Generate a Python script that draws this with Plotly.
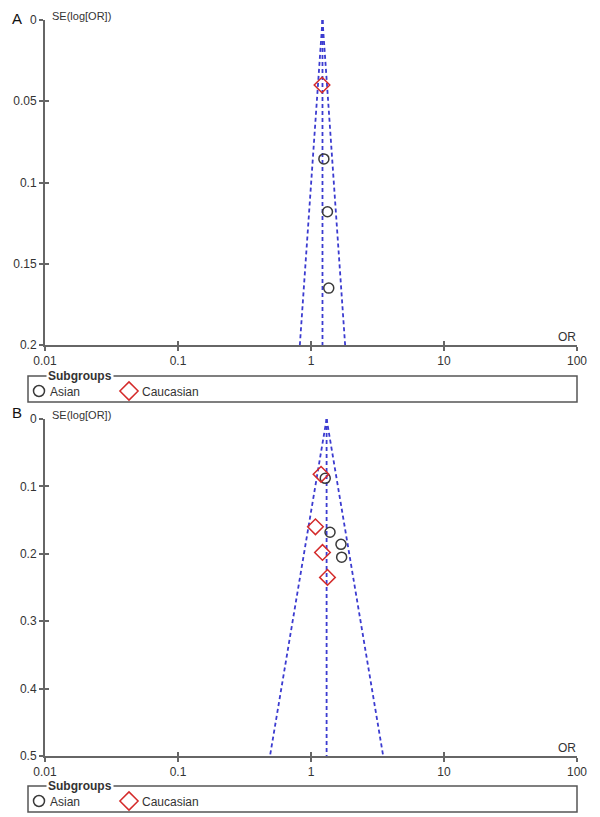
import numpy as np
import plotly.graph_objects as go

# page offset (browser body margin) compensation
OX, OY = 8, 8
W, H = 600 - OX, 817 - OY

# ---- Panel A data ----
a_asian_or = [1.25, 1.33, 1.36]
a_asian_se = [0.0855, 0.118, 0.165]
a_cauc_or = [1.21]
a_cauc_se = [0.040]
a_pooled_or = 1.22
a_se_max = 0.2

# ---- Panel B data ----
b_asian_or = [1.28, 1.39, 1.68, 1.70]
b_asian_se = [0.088, 0.168, 0.186, 0.205]
b_cauc_or = [1.19, 1.08, 1.22, 1.33]
b_cauc_se = [0.082, 0.160, 0.198, 0.235]
b_pooled_or = 1.31
b_se_max = 0.5

x_tickvals = [0.01, 0.1, 1, 10, 100]
x_ticktext = ["0.01", "0.1", "1", "10", "100"]
a_yticks = [0, 0.05, 0.1, 0.15, 0.2]
b_yticks = [0, 0.1, 0.2, 0.3, 0.4, 0.5]

FUNNEL = "#3b3bd0"
CIRC = "#3a3a3a"
DIAM = "#d42a2a"
AXC = "#666666"
TXT = "#333333"
FONT = "Liberation Sans, Arial, sans-serif"


def px(x):
    return (x - OX) / W


def py(y):
    return 1 - (y - OY) / H


fig = go.Figure()


def funnel(pooled, se_max, xa, ya):
    se = [0, se_max]
    lo = [float(np.exp(np.log(pooled) - 1.96 * s)) for s in se]
    hi = [float(np.exp(np.log(pooled) + 1.96 * s)) for s in se]
    for xs in (lo, [pooled, pooled], hi):
        fig.add_trace(go.Scatter(x=xs, y=se, mode="lines", xaxis=xa, yaxis=ya,
                                 line=dict(color=FUNNEL, width=1.8, dash="4px,3px"),
                                 showlegend=False, hoverinfo="skip"))


def points(or_a, se_a, or_c, se_c, xa, ya):
    fig.add_trace(go.Scatter(x=or_a, y=se_a, mode="markers", xaxis=xa, yaxis=ya,
                             marker=dict(symbol="circle-open", size=10, color=CIRC,
                                         line=dict(width=1.5, color=CIRC)),
                             showlegend=False))
    fig.add_trace(go.Scatter(x=or_c, y=se_c, mode="markers", xaxis=xa, yaxis=ya,
                             marker=dict(symbol="diamond-open", size=12, color=DIAM,
                                         line=dict(width=1.5, color=DIAM)),
                             showlegend=False))


funnel(a_pooled_or, a_se_max, "x", "y")
points(a_asian_or, a_asian_se, a_cauc_or, a_cauc_se, "x", "y")
funnel(b_pooled_or, b_se_max, "x2", "y2")
points(b_asian_or, b_asian_se, b_cauc_or, b_cauc_se, "x2", "y2")

# invisible traces for inside-tick overlay axes
fig.add_trace(go.Scatter(x=[1], y=[0.1], xaxis="x3", yaxis="y3", mode="markers",
                         marker=dict(opacity=0), showlegend=False, hoverinfo="skip"))
fig.add_trace(go.Scatter(x=[1], y=[0.1], xaxis="x4", yaxis="y4", mode="markers",
                         marker=dict(opacity=0), showlegend=False, hoverinfo="skip"))

xdom = [px(45), px(577)]
a_ydom = [py(345), py(20)]
b_ydom = [py(756), py(419)]

tickfont = dict(family=FONT, size=12, color=TXT)

common_x = dict(type="log", range=[-2, 2], domain=xdom, showgrid=False, zeroline=False,
                tickvals=x_tickvals, ticktext=x_ticktext, fixedrange=True, automargin=False)
common_y = dict(showgrid=False, zeroline=False, fixedrange=True, automargin=False)

main_x = dict(common_x, showline=True, linecolor=AXC, linewidth=2, ticks="outside",
              ticklen=4, tickwidth=2, tickcolor=AXC, tickfont=tickfont)
main_y = dict(common_y, showline=True, linecolor=AXC, linewidth=2, ticks="outside",
              ticklen=4, tickwidth=2, tickcolor=AXC, tickfont=tickfont)
ins_x = dict(common_x, showline=False, ticks="inside", ticklen=4, tickwidth=2,
             tickcolor=AXC, showticklabels=False)
ins_y = dict(common_y, showline=False, ticks="inside", ticklen=4, tickwidth=2,
             tickcolor=AXC, showticklabels=False)

fig.update_layout(
    width=W, height=H, margin=dict(l=0, r=0, t=0, b=0, pad=0),
    paper_bgcolor="white", plot_bgcolor="rgba(0,0,0,0)",
    font=dict(family=FONT, color=TXT),
    xaxis=dict(main_x, anchor="y"),
    yaxis=dict(main_y, anchor="x", domain=a_ydom, range=[0.2, 0], tickvals=a_yticks),
    xaxis2=dict(main_x, anchor="y2"),
    yaxis2=dict(main_y, anchor="x2", domain=b_ydom, range=[0.5, 0], tickvals=b_yticks),
    xaxis3=dict(ins_x, anchor="y3", overlaying="x"),
    yaxis3=dict(ins_y, anchor="x3", overlaying="y", domain=a_ydom, range=[0.2, 0],
                tickvals=a_yticks),
    xaxis4=dict(ins_x, anchor="y4", overlaying="x2"),
    yaxis4=dict(ins_y, anchor="x4", overlaying="y2", domain=b_ydom, range=[0.5, 0],
                tickvals=b_yticks),
    showlegend=False,
)

shapes = []
annotations = []


def panel_deco(label, label_y, axis_top, axis_bottom, box_top, box_bottom):
    annotations.append(dict(xref="paper", yref="paper", x=px(10), y=py(label_y),
                            text=label, showarrow=False, xanchor="left", yanchor="middle",
                            font=dict(family=FONT, size=15, color="#111111")))
    annotations.append(dict(xref="paper", yref="paper", x=px(50), y=py(axis_top - 4),
                            text="SE(log[OR])", showarrow=False, xanchor="left",
                            yanchor="middle", font=dict(family=FONT, size=11, color=TXT)))
    annotations.append(dict(xref="paper", yref="paper", x=px(578), y=py(axis_bottom - 8),
                            text="OR", showarrow=False, xanchor="right", yanchor="middle",
                            font=dict(family=FONT, size=12, color=TXT)))
    shapes.append(dict(type="rect", xref="paper", yref="paper",
                       x0=px(28), x1=px(577), y0=py(box_bottom), y1=py(box_top),
                       line=dict(color="#555555", width=1.5), fillcolor="rgba(0,0,0,0)"))
    annotations.append(dict(xref="paper", yref="paper", x=px(46), y=py(box_top),
                            text="<b>Subgroups</b>", showarrow=False, xanchor="left",
                            yanchor="middle", bgcolor="white", borderpad=1,
                            font=dict(family=FONT, size=12, color=TXT)))
    mid = (box_top + box_bottom) / 2 + 3
    annotations.append(dict(xref="paper", yref="paper", x=px(48), y=py(mid),
                            text="Asian", showarrow=False, xanchor="left", yanchor="middle",
                            font=dict(family=FONT, size=12, color=TXT)))
    annotations.append(dict(xref="paper", yref="paper", x=px(140), y=py(mid),
                            text="Caucasian", showarrow=False, xanchor="left",
                            yanchor="middle", font=dict(family=FONT, size=12, color=TXT)))
    return mid


mid_a = panel_deco("A", 18, 20, 345, 376, 402)
mid_b = panel_deco("B", 412, 419, 756, 786, 812)

# legend symbols in a pixel overlay axis
legend_x_circ = [39, 39]
legend_x_diam = [129, 129]
legend_y = [mid_a - 1, mid_b - 1]
fig.add_trace(go.Scatter(x=legend_x_circ, y=legend_y, xaxis="x5", yaxis="y5", mode="markers",
                         marker=dict(symbol="circle-open", size=11, color=CIRC,
                                     line=dict(width=1.5, color=CIRC)),
                         showlegend=False, hoverinfo="skip"))
fig.add_trace(go.Scatter(x=legend_x_diam, y=legend_y, xaxis="x5", yaxis="y5", mode="markers",
                         marker=dict(symbol="diamond-open", size=14, color=DIAM,
                                     line=dict(width=1.5, color=DIAM)),
                         showlegend=False, hoverinfo="skip"))
fig.update_layout(
    xaxis5=dict(domain=[0, 1], range=[OX, OX + W], anchor="y5", visible=False,
                fixedrange=True, automargin=False),
    yaxis5=dict(domain=[0, 1], range=[OY + H, OY], anchor="x5", visible=False,
                fixedrange=True, automargin=False),
    shapes=shapes, annotations=annotations,
)

fig.write_html("out.html")
